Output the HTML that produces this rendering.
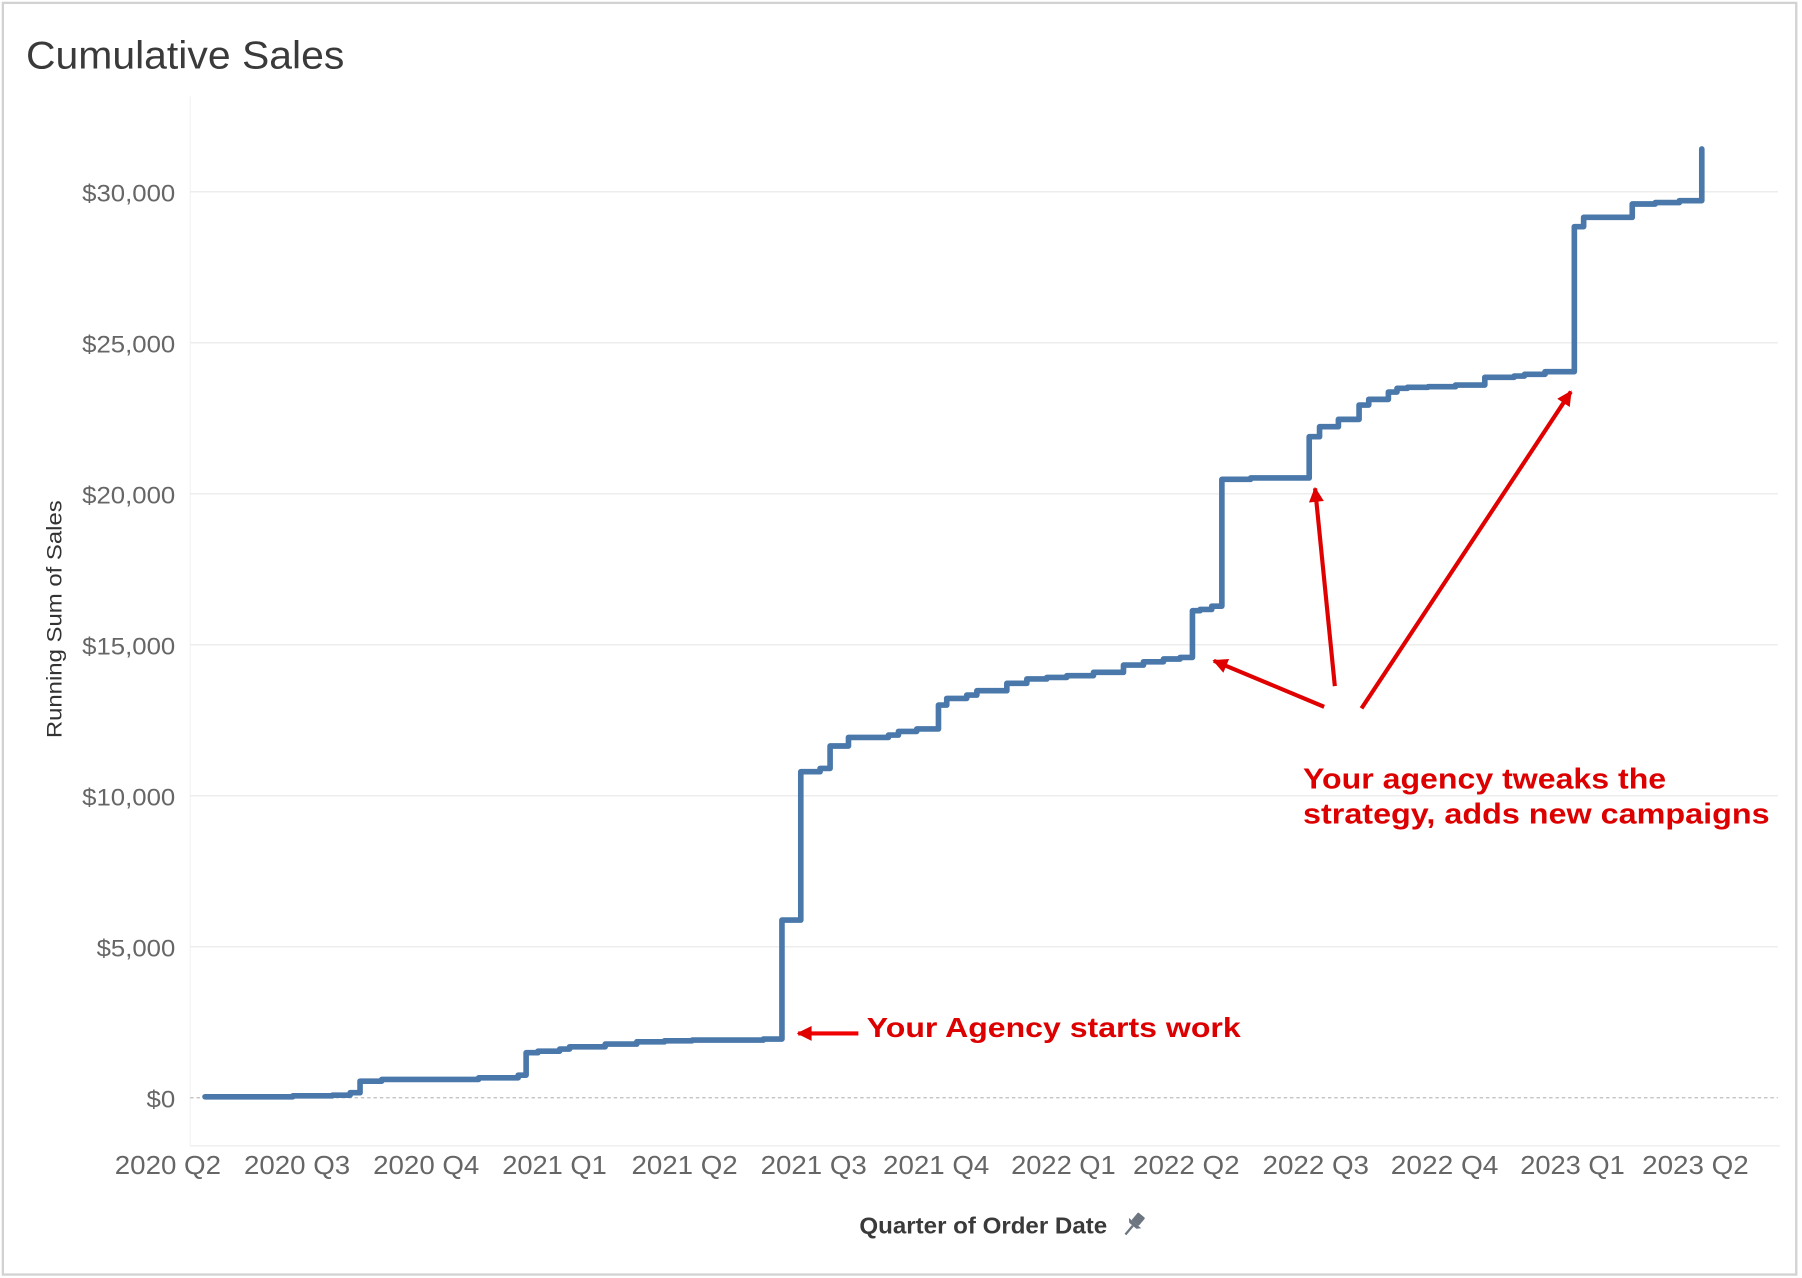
<!DOCTYPE html>
<html>
<head>
<meta charset="utf-8">
<style>
html,body{margin:0;padding:0;background:#fff;overflow:hidden;width:1802px;height:1278px;}
svg{display:block;}
text{font-family:"Liberation Sans",Arial,sans-serif;}
</style>
</head>
<body>
<svg width="1802" height="1278" viewBox="0 0 1568 1112" preserveAspectRatio="none" xmlns="http://www.w3.org/2000/svg">
  <defs>
    <marker id="ah" viewBox="0 0 10 10" refX="9" refY="5" markerWidth="15" markerHeight="13" markerUnits="userSpaceOnUse" orient="auto">
      <path d="M0,0 L10,5 L0,10 z" fill="#e00000"/>
    </marker>
  </defs>
  <rect x="0" y="0" width="1568" height="1112" fill="#ffffff"/>
  <rect x="2.5" y="2.5" width="1560.5" height="1106.5" fill="none" stroke="#d2d2d2" stroke-width="2"/>

  <!-- Title -->
  <text x="22.6" y="59.5" font-size="34" fill="#3a3a3a" textLength="277" lengthAdjust="spacingAndGlyphs">Cumulative Sales</text>

  <!-- plot frame -->
  <line x1="165.5" y1="84" x2="165.5" y2="997" stroke="#f2f2f2" stroke-width="1"/>
  <line x1="165.5" y1="997" x2="1549" y2="997" stroke="#eeeeee" stroke-width="1.2"/>

  <!-- gridlines -->
  <g stroke="#ededed" stroke-width="1.3">
    <line x1="165.5" y1="166.8" x2="1547" y2="166.8"/>
    <line x1="165.5" y1="298.2" x2="1547" y2="298.2"/>
    <line x1="165.5" y1="429.6" x2="1547" y2="429.6"/>
    <line x1="165.5" y1="561.0" x2="1547" y2="561.0"/>
    <line x1="165.5" y1="692.4" x2="1547" y2="692.4"/>
    <line x1="165.5" y1="823.8" x2="1547" y2="823.8"/>
  </g>
  <line x1="165.5" y1="955.2" x2="1547" y2="955.2" stroke="#bdbdbd" stroke-width="1.1" stroke-dasharray="3,2.5"/>

  <!-- y labels -->
  <g font-size="21" fill="#666" text-anchor="end">
    <text x="152.5" y="175.3" textLength="81" lengthAdjust="spacingAndGlyphs">$30,000</text>
    <text x="152.5" y="306.7" textLength="81" lengthAdjust="spacingAndGlyphs">$25,000</text>
    <text x="152.5" y="438.1" textLength="81" lengthAdjust="spacingAndGlyphs">$20,000</text>
    <text x="152.5" y="569.5" textLength="81" lengthAdjust="spacingAndGlyphs">$15,000</text>
    <text x="152.5" y="700.9" textLength="81" lengthAdjust="spacingAndGlyphs">$10,000</text>
    <text x="152.5" y="832.3" textLength="68.4" lengthAdjust="spacingAndGlyphs">$5,000</text>
    <text x="152.5" y="963.7" textLength="25" lengthAdjust="spacingAndGlyphs">$0</text>
  </g>

  <!-- y axis title -->
  <text transform="translate(53.3,538.8) rotate(-90)" font-size="18.5" fill="#333" text-anchor="middle" textLength="207" lengthAdjust="spacingAndGlyphs">Running Sum of Sales</text>

  <!-- x labels -->
  <g font-size="22.5" fill="#666">
    <text x="99.9" y="1021.6" textLength="92.4" lengthAdjust="spacingAndGlyphs">2020 Q2</text>
    <text x="212.3" y="1021.6" textLength="92.4" lengthAdjust="spacingAndGlyphs">2020 Q3</text>
    <text x="324.7" y="1021.6" textLength="92.4" lengthAdjust="spacingAndGlyphs">2020 Q4</text>
    <text x="437.0" y="1021.6" textLength="91" lengthAdjust="spacingAndGlyphs">2021 Q1</text>
    <text x="549.5" y="1021.6" textLength="92.4" lengthAdjust="spacingAndGlyphs">2021 Q2</text>
    <text x="661.8" y="1021.6" textLength="92.4" lengthAdjust="spacingAndGlyphs">2021 Q3</text>
    <text x="768.4" y="1021.6" textLength="92.4" lengthAdjust="spacingAndGlyphs">2021 Q4</text>
    <text x="879.8" y="1021.6" textLength="91" lengthAdjust="spacingAndGlyphs">2022 Q1</text>
    <text x="985.9" y="1021.6" textLength="92.7" lengthAdjust="spacingAndGlyphs">2022 Q2</text>
    <text x="1098.6" y="1021.6" textLength="92.6" lengthAdjust="spacingAndGlyphs">2022 Q3</text>
    <text x="1210.2" y="1021.6" textLength="93.6" lengthAdjust="spacingAndGlyphs">2022 Q4</text>
    <text x="1322.8" y="1021.6" textLength="91" lengthAdjust="spacingAndGlyphs">2023 Q1</text>
    <text x="1428.9" y="1021.6" textLength="92.7" lengthAdjust="spacingAndGlyphs">2023 Q2</text>
  </g>

  <!-- x axis title -->
  <text x="747.8" y="1073.3" font-size="20" font-weight="bold" fill="#3a3a3a" textLength="215.6" lengthAdjust="spacingAndGlyphs">Quarter of Order Date</text>
  <!-- pin icon -->
  <g transform="translate(987,1065) rotate(40)" fill="#6c7580">
    <rect x="-4" y="-10" width="8" height="9" rx="1"/>
    <polygon points="-7,-1 7,-1 4,2 -4,2"/>
    <rect x="-1" y="2" width="2" height="10"/>
  </g>

  <!-- series -->
  <path d="M178.4,954.3 H254.8 V953.5 H289.2 V952.9 H304.7 V950.8 H313.3 V940.7 H332.2 V939.2 H416.5 V937.8 H450.9 V935.5 H457.8 V916.0 H468.1 V914.6 H487.0 V912.8 H495.6 V910.8 H526.6 V908.5 H554.1 V906.5 H578.2 V905.6 H602.3 V905.0 H664.2 V904.1 H680.4 V800.6 H696.8 V671.5 H713.6 V668.6 H722.3 V649.1 H738.3 V641.6 H773.1 V639.6 H781.8 V636.4 H797.7 V634.3 H816.6 V613.5 H823.8 V607.7 H841.2 V604.8 H850.0 V601.0 H876.1 V594.6 H893.5 V590.8 H910.9 V589.4 H928.3 V587.9 H951.5 V585.0 H977.6 V578.7 H995.0 V575.8 H1012.4 V573.4 H1026.9 V572.0 H1037.6 V531.4 H1044.2 V530.3 H1054.4 V527.4 H1063.2 V417.1 H1088.2 V415.9 H1139.2 V380.0 H1148.2 V371.3 H1164.6 V364.9 H1182.6 V352.4 H1191.0 V347.5 H1208.1 V341.1 H1215.6 V337.9 H1224.6 V337.0 H1242.6 V336.5 H1266.5 V335.0 H1292.0 V328.3 H1317.5 V327.2 H1326.5 V325.7 H1344.4 V323.4 H1369.9 V197.2 H1378.0 V189.1 H1420.3 V177.5 H1440.3 V176.3 H1461.3 V174.6 H1480.8 V129.6" fill="none" stroke="#4a78aa" stroke-width="4.9" stroke-linejoin="round" stroke-linecap="round"/>

  <!-- annotations -->
  <g stroke="#e00000" stroke-width="3.6" fill="none">
    <line x1="746.9" y1="899.2" x2="694.5" y2="899.2" stroke="#f00000" marker-end="url(#ah)"/>
    <line x1="1152.2" y1="615" x2="1056.2" y2="574.9" marker-end="url(#ah)"/>
    <line x1="1161.5" y1="597" x2="1144.3" y2="424.9" marker-end="url(#ah)"/>
    <line x1="1184.7" y1="616.4" x2="1366.9" y2="340.8" marker-end="url(#ah)"/>
  </g>
  <g font-weight="bold" fill="#dd0000">
    <text x="754.2" y="902.1" font-size="24.5" textLength="325.4" lengthAdjust="spacingAndGlyphs">Your Agency starts work</text>
    <text x="1133.8" y="686" font-size="25" textLength="316" lengthAdjust="spacingAndGlyphs">Your agency tweaks the</text>
    <text x="1133.8" y="716.5" font-size="25" textLength="406" lengthAdjust="spacingAndGlyphs">strategy, adds new campaigns</text>
  </g>
</svg>
</body>
</html>
